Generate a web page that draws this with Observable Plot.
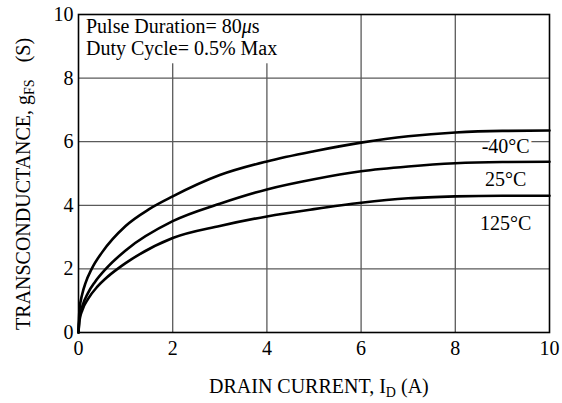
<!DOCTYPE html>
<html>
<head>
<meta charset="utf-8">
<script src="https://cdn.jsdelivr.net/npm/d3@7"></script>
<script src="https://cdn.jsdelivr.net/npm/@observablehq/plot@0.6"></script>
<style>
  html, body { margin: 0; padding: 0; background: #fff; }
</style>
</head>
<body>
<div id="chart"></div>
<script>
// ---- data ----
const idM40 = [0, 0.02, 0.08, 0.15, 0.28, 0.5, 1, 1.5, 2, 3, 4, 5, 6, 7, 8, 9, 10];
const gM40  = [0, 0.7, 1.21, 1.56, 2.0, 2.52, 3.35, 3.88, 4.28, 4.95, 5.38, 5.7, 5.97, 6.17, 6.29, 6.34, 6.35];
const id25  = [0, 0.02, 0.08, 0.2, 0.35, 0.58, 1, 2, 3, 4, 5, 6, 7, 8, 9, 10];
const g25   = [0, 0.44, 0.82, 1.24, 1.59, 2.0, 2.58, 3.5, 4.05, 4.5, 4.82, 5.07, 5.22, 5.32, 5.36, 5.37];
const id125 = [0, 0.02, 0.08, 0.2, 0.4, 0.6, 0.83, 1, 2, 3, 4, 5, 6, 7, 8, 9, 10];
const g125  = [0, 0.37, 0.7, 1.05, 1.44, 1.73, 2.0, 2.18, 2.97, 3.35, 3.65, 3.88, 4.08, 4.22, 4.28, 4.3, 4.3];

const xTicks = [0, 2, 4, 6, 8, 10];
const yTicks = [0, 2, 4, 6, 8, 10];
const gridX = [2, 4, 6, 8];
const gridY = [2, 4, 6, 8];

const tempLabels = ["-40°C", "25°C", "125°C"];
const tempLabelX = [9.07, 9.07, 9.07];
const tempLabelY = [5.86, 4.81, 3.43];

const noteLines = ["Pulse Duration= 80", "Duty Cycle= 0.5% Max"];

// ---- build tables ----
const series = [
  ...idM40.map((x, i) => ({x, y: gM40[i], s: "-40"})),
  ...id25.map((x, i) => ({x, y: g25[i], s: "25"})),
  ...id125.map((x, i) => ({x, y: g125[i], s: "125"}))
];
const labels = tempLabels.map((t, i) => ({t, x: tempLabelX[i], y: tempLabelY[i]}));

const FONT = "'Liberation Serif', 'Times New Roman', serif";

const chart = Plot.plot({
  width: 562,
  height: 403,
  marginLeft: 78,
  marginRight: 13,
  marginTop: 14,
  marginBottom: 71,
  style: {fontFamily: FONT, fontSize: "20px", background: "white", color: "black"},
  x: {domain: [0, 10]},
  y: {domain: [0, 10]},
  marks: [
    Plot.ruleX(gridX, {stroke: "#5a5a5a", strokeWidth: 1.3}),
    Plot.ruleY(gridY, {stroke: "#5a5a5a", strokeWidth: 1.3}),
    Plot.rect([{}], {x1: 0, x2: 4.7, y1: 8.45, y2: 10, fill: "white"}),
    Plot.frame({stroke: "black", strokeWidth: 1.6}),
    Plot.line(series, {x: "x", y: "y", z: "s", stroke: "black", strokeWidth: 2.6, curve: "monotone-x"}),
    Plot.text(labels, {x: "x", y: "y", text: "t", fill: "black", stroke: "white", strokeWidth: 6, fontSize: 20, fontFamily: FONT}),
    Plot.axisX(xTicks, {tickSize: 0, tickPadding: 8, fontSize: 20, fontFamily: FONT, label: null}),
    Plot.axisY(yTicks, {tickSize: 0, tickPadding: 5, fontSize: 20, fontFamily: FONT, label: null})
  ]
});

document.getElementById("chart").appendChild(chart);

const svg = d3.select(chart);
svg.selectAll("text").style("font-family", FONT);

function addText(x, y) {
  return svg.append("text").attr("x", x).attr("y", y)
    .style("font-family", FONT).attr("font-size", 20).attr("fill", "black")
    .attr("text-anchor", "start");
}

// note box text
const n1 = addText(86, 33);
n1.append("tspan").text(noteLines[0]);
n1.append("tspan").attr("font-style", "italic").text("μ");
n1.append("tspan").text("s");
addText(86, 55).text(noteLines[1]);

// x title
const xt = addText(209, 393);
xt.append("tspan").text("DRAIN CURRENT, I");
xt.append("tspan").attr("dy", 4).attr("font-size", 14).text("D");
xt.append("tspan").attr("dy", -4).attr("dx", 5).text("(A)");

// y title
const yt = svg.append("text").attr("transform", "translate(30,330) rotate(-90)")
  .style("font-family", FONT).attr("font-size", 20).attr("fill", "black")
  .attr("text-anchor", "start");
yt.append("tspan").text("TRANSCONDUCTANCE, g");
yt.append("tspan").attr("dy", 4).attr("font-size", 14).text("FS");
yt.append("tspan").attr("dy", -4).attr("dx", 17).text("(S)");
</script>
</body>
</html>
